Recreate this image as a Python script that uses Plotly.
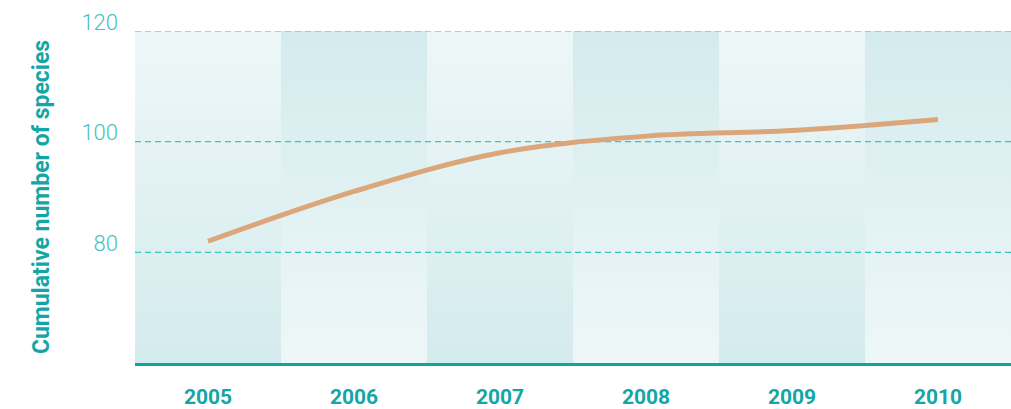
import plotly.graph_objects as go

years = ["2005", "2006", "2007", "2008", "2009", "2010"]
species = [82, 91, 98, 101, 102, 104]
y_ticks = [80, 100, 120]
y_range = [60, 120]

light = "#eef7f8"
dark = "#d4ebed"
teal = "#14a6a6"
tick_teal = "#47bfbf"
line_color = "#dba77a"

fig = go.Figure()
n = len(years)
xs = list(range(n))

# alternating vertical gradient bands
for i in xs:
    if i % 2 == 0:
        cs = [[0, dark], [1, light]]  # bottom dark, top light
    else:
        cs = [[0, light], [1, dark]]
    fig.add_trace(go.Scatter(
        x=[i - 0.5, i + 0.5, i + 0.5, i - 0.5, i - 0.5],
        y=[y_range[0], y_range[0], y_range[1], y_range[1], y_range[0]],
        fill="toself", mode="lines", line=dict(width=0),
        fillgradient=dict(type="vertical", colorscale=cs),
        hoverinfo="skip", showlegend=False))

# dashed gridlines drawn above bands
for t in y_ticks:
    fig.add_trace(go.Scatter(
        x=[-0.5, n - 0.5], y=[t, t], mode="lines",
        line=dict(color="#38c4c4", width=1.2, dash="6px,4px"),
        hoverinfo="skip", showlegend=False))

fig.add_trace(go.Scatter(
    x=xs, y=species, mode="lines",
    line=dict(color=line_color, width=5, shape="spline", smoothing=1),
    showlegend=False))

fig.update_layout(
    width=1011, height=409,
    margin=dict(l=135, r=0, t=31, b=44),
    paper_bgcolor="white", plot_bgcolor="white",
    xaxis=dict(range=[-0.5, n - 0.5], tickvals=xs, ticktext=years,
               showgrid=False, zeroline=False,
               showline=True, linecolor="#0aa6a6", linewidth=3,
               ticks="", ticklabelstandoff=13,
               tickfont=dict(family="Roboto", size=21, color=teal, weight="bold")),
    yaxis=dict(range=y_range, tickvals=y_ticks, showgrid=False, zeroline=False,
               showline=False, ticks="", ticklabelstandoff=16, ticklabelshift=-9,
               tickfont=dict(family="Roboto", size=22, color=tick_teal, weight=300),
               title=dict(text="Cumulative number of species", standoff=25,
                          font=dict(family="Roboto", size=23, color=teal, weight="bold"))),
)

fig.write_html("out.html", config={"displayModeBar": False},
               post_script="document.body.style.margin='0';document.body.style.overflow='hidden';")
